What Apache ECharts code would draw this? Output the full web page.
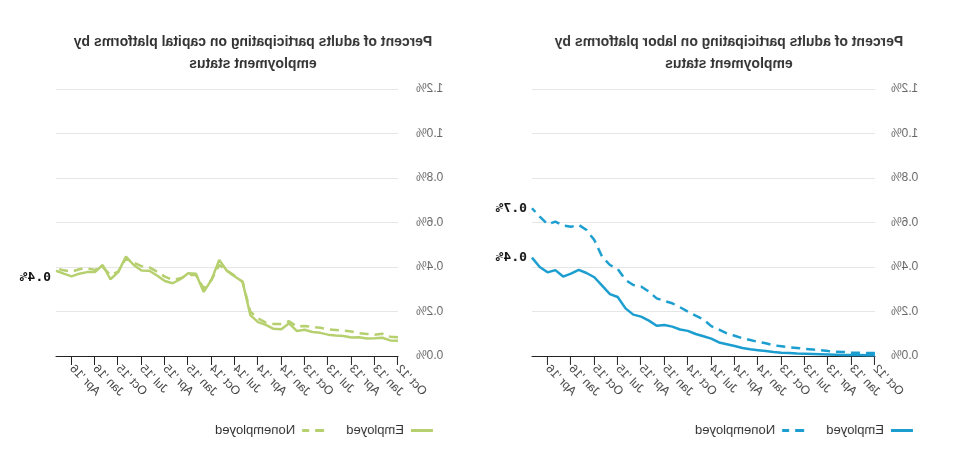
<!DOCTYPE html>
<html>
<head>
<meta charset="utf-8">
<script src="https://cdn.jsdelivr.net/npm/echarts@6/dist/echarts.min.js"></script>
<style>
  html, body { margin: 0; padding: 0; background: #fff; }
  #wrap { width: 953px; height: 459px; transform: scaleX(-1); }
  #chart { width: 953px; height: 459px; }
</style>
</head>
<body>
<div id="wrap"><div id="chart"></div></div>
<script>
// Monthly categories, Oct 2012 - Jun 2016
var months = [
  "Oct '12","Nov '12","Dec '12",
  "Jan '13","Feb '13","Mar '13","Apr '13","May '13","Jun '13","Jul '13","Aug '13","Sep '13","Oct '13","Nov '13","Dec '13",
  "Jan '14","Feb '14","Mar '14","Apr '14","May '14","Jun '14","Jul '14","Aug '14","Sep '14","Oct '14","Nov '14","Dec '14",
  "Jan '15","Feb '15","Mar '15","Apr '15","May '15","Jun '15","Jul '15","Aug '15","Sep '15","Oct '15","Nov '15","Dec '15",
  "Jan '16","Feb '16","Mar '16","Apr '16","May '16","Jun '16"
];

var titleLabor = "Percent of adults participating on labor platforms by\nemployment status";
var titleCapital = "Percent of adults participating on capital platforms by\nemployment status";
var seriesNames = ["Employed", "Nonemployed"];
var yTicks = { min: 0, max: 1.2, step: 0.2 };

// Labor platforms (percent)
var laborEmployed = [
  0.003,0.003,0.004,0.004,0.005,0.006,0.007,0.008,0.009,0.010,0.011,0.013,0.015,0.018,0.022,
  0.026,0.030,0.036,0.045,0.053,0.061,0.078,0.089,0.099,0.113,0.119,0.132,0.139,0.136,0.159,
  0.177,0.186,0.214,0.265,0.278,0.316,0.354,0.373,0.387,0.370,0.357,0.386,0.376,0.400,0.442
];
var laborNonemployed = [
  0.013,0.013,0.015,0.015,0.018,0.019,0.022,0.026,0.029,0.032,0.036,0.039,0.044,0.048,0.057,
  0.063,0.072,0.080,0.091,0.102,0.119,0.134,0.165,0.181,0.199,0.219,0.237,0.247,0.259,0.289,
  0.312,0.319,0.342,0.391,0.409,0.446,0.521,0.566,0.589,0.581,0.586,0.604,0.592,0.626,0.664
];

// Capital platforms (percent)
var capitalEmployed = [
  0.068,0.070,0.082,0.080,0.079,0.084,0.083,0.090,0.092,0.096,0.104,0.108,0.118,0.112,0.147,
  0.120,0.122,0.140,0.152,0.184,0.334,0.357,0.382,0.432,0.342,0.288,0.370,0.372,0.345,0.327,
  0.337,0.362,0.383,0.384,0.409,0.447,0.377,0.345,0.409,0.377,0.377,0.370,0.358,0.370,0.383
];
var capitalNonemployed = [
  0.084,0.087,0.100,0.096,0.099,0.102,0.110,0.114,0.117,0.120,0.127,0.131,0.135,0.132,0.156,
  0.144,0.144,0.150,0.169,0.199,0.334,0.360,0.384,0.409,0.342,0.304,0.364,0.364,0.349,0.342,
  0.357,0.379,0.398,0.404,0.419,0.439,0.379,0.364,0.400,0.387,0.394,0.390,0.379,0.385,0.394
];

var BLUE = '#1b9ecf';
var GREEN = '#b6d06f';
var FONT = "'Liberation Sans', Arial, sans-serif";
var ZW = '\u200b';
var ICON_SOLID = 'path://M0,0H22V3H0Z';
var ICON_DASH = 'path://M0,0H9V3H0ZM15,0H22V3H15Z';

function pct(v) { return v.toFixed(1) + '%'; }

function xAxis(gridIndex) {
  return {
    type: 'category', gridIndex: gridIndex, data: months, boundaryGap: false,
    axisLine: { lineStyle: { color: '#222', width: 1 } },
    axisTick: { show: true, interval: 2, length: 9, lineStyle: { color: '#222' } },
    axisLabel: { interval: 2, rotate: 45, margin: 11, color: '#444', fontSize: 12, fontFamily: FONT },
    splitLine: { show: false }
  };
}
function yAxis(gridIndex, margin) {
  return {
    type: 'value', gridIndex: gridIndex, min: yTicks.min, max: yTicks.max, interval: yTicks.step,
    axisLine: { show: false }, axisTick: { show: false },
    axisLabel: { margin: margin, color: '#666', fontSize: 12, fontFamily: FONT, formatter: pct },
    splitLine: { lineStyle: { color: '#e6e6e6', width: 1 } }
  };
}
function endLabel(offset) {
  return {
    show: true, distance: 5, offset: offset || [0, 0],
    fontFamily: "'DejaVu Sans Mono', monospace", fontWeight: 'bold', fontSize: 13, color: '#111',
    formatter: function (p) { return pct(p.value); }
  };
}
function line(name, idx, data, color, dashed, label) {
  var s = {
    name: name, type: 'line', xAxisIndex: idx, yAxisIndex: idx, data: data,
    symbol: 'none', smooth: false, animation: false,
    lineStyle: { color: color, width: 2.5, type: dashed ? [9, 6] : 'solid' },
    itemStyle: { color: color },
    emphasis: { disabled: true }
  };
  if (label) s.endLabel = label;
  return s;
}
function legend(left, suffix, color) {
  return {
    left: left, top: 424, itemWidth: 22, itemHeight: 3, itemGap: 22, padding: 0,
    selectedMode: false,
    data: [
      { name: seriesNames[0] + suffix, icon: ICON_SOLID, itemStyle: { color: color } },
      { name: seriesNames[1] + suffix, icon: ICON_DASH, itemStyle: { color: color } }
    ],
    textStyle: { fontFamily: FONT, fontSize: 13, color: '#333', padding: [0, 0, 0, 2] },
    formatter: function (n) { return n.replace(ZW, ''); }
  };
}

var chart = echarts.init(document.getElementById('chart'), null, { renderer: 'canvas' });
chart.setOption({
  animation: false,
  title: [
    { text: titleLabor, left: 224, top: 31, textAlign: 'center', padding: 0,
      textStyle: { fontFamily: FONT, fontSize: 14, fontWeight: 'bold', color: '#333', lineHeight: 22 } },
    { text: titleCapital, left: 700, top: 31, textAlign: 'center', padding: 0,
      textStyle: { fontFamily: FONT, fontSize: 14, fontWeight: 'bold', color: '#333', lineHeight: 22 } }
  ],
  grid: [
    { left: 78, width: 343, top: 89, height: 267, containLabel: false },
    { left: 555, width: 342, top: 89, height: 267, containLabel: false }
  ],
  xAxis: [xAxis(0), xAxis(1)],
  yAxis: [yAxis(0, 16), yAxis(1, 18)],
  legend: [legend(40, '', BLUE), legend(520, ZW, GREEN)],
  series: [
    line(seriesNames[0], 0, laborEmployed, BLUE, false, endLabel()),
    line(seriesNames[1], 0, laborNonemployed, BLUE, true, endLabel()),
    line(seriesNames[0] + ZW, 1, capitalEmployed, GREEN, false, endLabel([0, 7])),
    line(seriesNames[1] + ZW, 1, capitalNonemployed, GREEN, true, null)
  ]
});
</script>
</body>
</html>
